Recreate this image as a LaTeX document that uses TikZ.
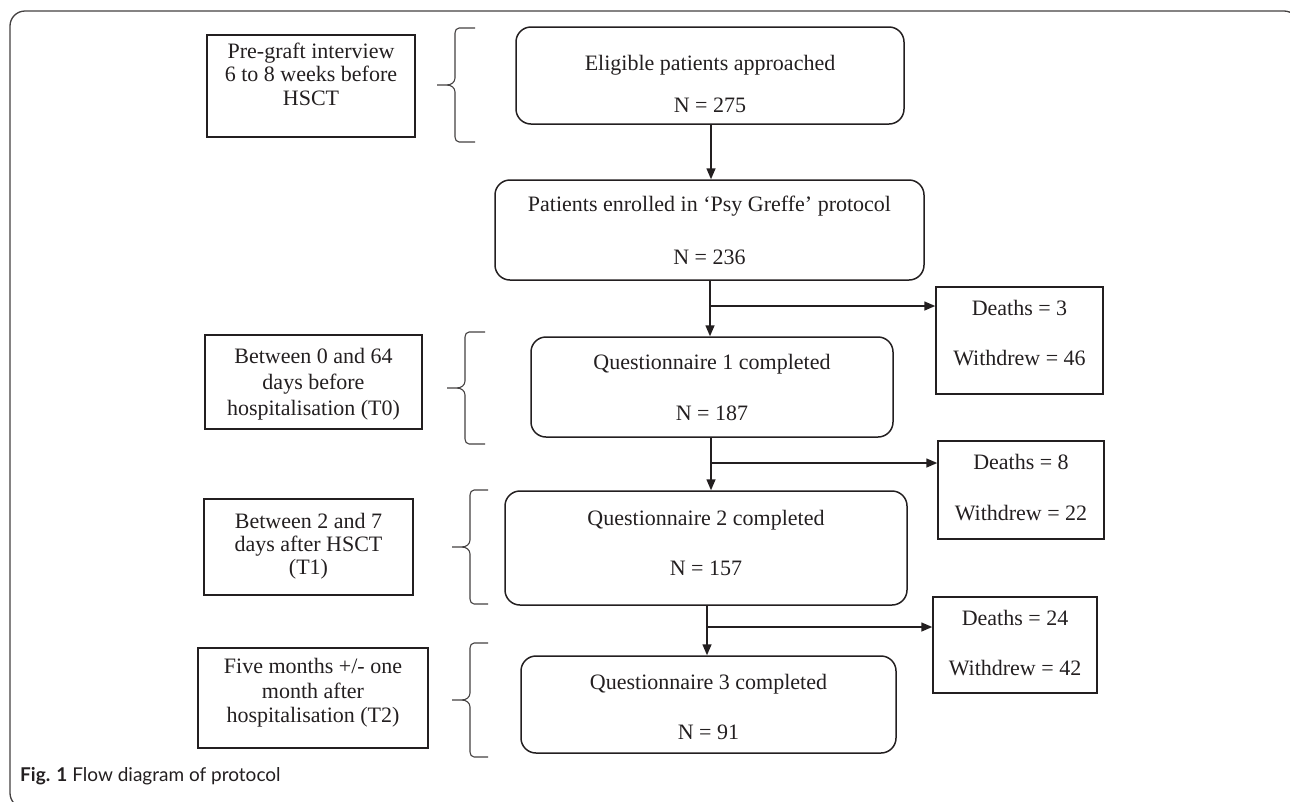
\documentclass[tikz,border=0pt]{standalone}
\usepackage{fontspec}
\setmainfont{Liberation Serif}
\newfontfamily\capfont{Lato}
\usetikzlibrary{arrows.meta}
\definecolor{ink}{HTML}{231F20}
\newcommand\mybrace[5]{% tipx, v, endx, top, bottom ; mid computed
  \pgfmathsetmacro\bmid{(#4+#5)/2}
  \draw[brc] (#3,#4) -- (#2+4,#4) to[out=180,in=90] (#2,#4+5) -- (#2,\bmid-7) to[out=-90,in=0] (#2-8,\bmid) -- (#1,\bmid);
  \draw[brc] (#3,#5) -- (#2+4,#5) to[out=180,in=-90] (#2,#5-5) -- (#2,\bmid+7) to[out=90,in=0] (#2-8,\bmid);
}
\begin{document}
\begin{tikzpicture}[x=1pt,y=-1pt,
  every node/.style={text=ink},
  serif/.style={font=\fontsize{22}{23.5}\selectfont},
  sqbox/.style={draw=ink, line width=1.5pt, inner sep=0pt},
  rbox/.style={draw=ink, line width=1.5pt, rounded corners=15pt, inner sep=0pt},
  txt/.style={serif, align=center, inner sep=0pt},
  conn/.style={draw=ink, line width=1.5pt},
  arr/.style={conn, -{Triangle[length=11pt,width=9pt]}},
  brc/.style={draw=ink!85, line width=1.1pt},
  frame/.style={draw=ink!85, line width=1.3pt, rounded corners=15pt}
]
\useasboundingbox (0,0) rectangle (1290,801);
\begin{scope}
  \clip (0,0) rectangle (1290,801);
  \draw[frame] (10,11) rectangle (1299,808);
\end{scope}

% left time boxes
\node[sqbox, minimum width=208pt, minimum height=102pt] (A) at (311,86) {};
\node[txt] (At) at (311,74) {Pre-graft interview\\6 to 8 weeks before\\HSCT};
\node[sqbox, minimum width=217pt, minimum height=94pt] (T0) at (313.5,382) {};
\node[txt, font=\fontsize{22}{26}\selectfont] (T0t) at (313.5,384) {Between 0 and 64\\days before\\hospitalisation (T0)};
\node[sqbox, minimum width=209pt, minimum height=96pt] (T1) at (308.5,547) {};
\node[txt, font=\fontsize{22}{23}\selectfont] (T1t) at (308.5,546) {Between 2 and 7\\days after HSCT\\(T1)};
\node[sqbox, minimum width=230pt, minimum height=100pt] (T2) at (313,698) {};
\node[txt, font=\fontsize{22}{24.5}\selectfont] (T2t) at (313,693) {Five months +/- one\\month after\\hospitalisation (T2)};

% braces
\mybrace{437}{455}{475}{28}{142}
\mybrace{447}{465}{485}{332}{444}
\mybrace{452}{470}{488}{490}{604}
\mybrace{452}{470}{488}{643}{757}

% main flow boxes
\node[rbox, minimum width=388pt, minimum height=97pt] (E) at (710,75.5) {};
\node[txt] (Et) at (710,84) {Eligible patients approached\\[18.5pt]N = 275};
\node[rbox, minimum width=429pt, minimum height=100pt] (P) at (709.5,230) {};
\node[txt] (Pt) at (709.5,230.5) {Patients enrolled in `Psy Greffe' protocol\\[29.5pt]N = 236};
\node[rbox, minimum width=362pt, minimum height=100pt] (Q1) at (712,387) {};
\node[txt] (Q1t) at (712,387.5) {Questionnaire 1 completed\\[27.5pt]N = 187};
\node[rbox, minimum width=402pt, minimum height=114pt] (Q2) at (706,548) {};
\node[txt] (Q2t) at (706,543) {Questionnaire 2 completed\\[26.5pt]N = 157};
\node[rbox, minimum width=375pt, minimum height=97pt] (Q3) at (708.5,704.5) {};
\node[txt] (Q3t) at (708.5,707) {Questionnaire 3 completed\\[26.5pt]N = 91};

% side boxes
\node[sqbox, minimum width=167pt, minimum height=107pt] (D3) at (1019.5,340.5) {};
\node[txt] (D3t) at (1019.5,333) {Deaths = 3\\[26.5pt]Withdrew = 46};
\node[sqbox, minimum width=166pt, minimum height=98pt] (D8) at (1021,490) {};
\node[txt] (D8t) at (1021,487.5) {Deaths = 8\\[27.5pt]Withdrew = 22};
\node[sqbox, minimum width=164pt, minimum height=96pt] (D24) at (1015,645) {};
\node[txt] (D24t) at (1015,643) {Deaths = 24\\[26.5pt]Withdrew = 42};

% connectors
\coordinate (v0) at (711,0);
\draw[arr] (v0 |- E.south) -- (v0 |- P.north);
\coordinate (j1) at (710,306);
\draw[arr] (j1 |- P.south) -- (j1 |- Q1.north);
\draw[arr] (j1) -- (j1 -| D3.west);
\coordinate (j2) at (711,463);
\draw[arr] (j2 |- Q1.south) -- (j2 |- Q2.north);
\draw[arr] (j2) -- (j2 -| D8.west);
\coordinate (j3) at (707,627);
\draw[arr] (j3 |- Q2.south) -- (j3 |- Q3.north);
\draw[arr] (j3) -- (j3 -| D24.west);

% caption
\node[anchor=base west, inner sep=0pt, font=\capfont\fontsize{19}{22}\selectfont] (cap) at (20,781) {\textbf{Fig. 1} Flow diagram of protocol};
\end{tikzpicture}
\end{document}
